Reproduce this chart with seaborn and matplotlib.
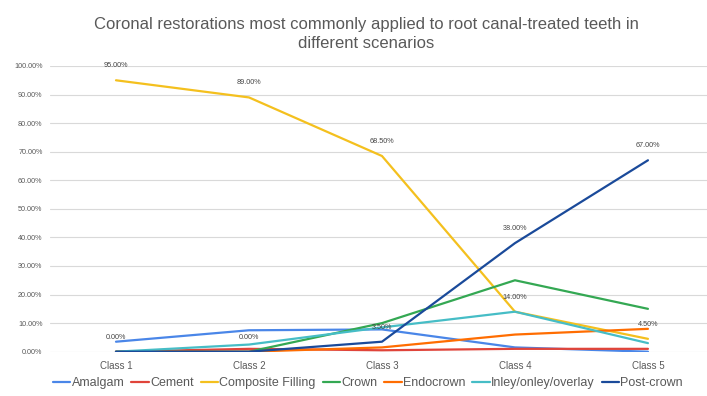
import matplotlib
matplotlib.use("Agg")
import matplotlib.pyplot as plt
from matplotlib import font_manager
import seaborn as sns
import pandas as pd

# Share of each restoration type per class (percent)
classes = ["Class 1", "Class 2", "Class 3", "Class 4", "Class 5"]
amalgam = [3.5, 7.5, 7.8, 1.5, 0.0]
cement = [0.0, 1.0, 0.5, 1.0, 1.0]
composite_filling = [95.0, 89.0, 68.5, 14.0, 4.5]
crown = [0.0, 0.0, 10.0, 25.0, 15.0]
endocrown = [0.0, 0.0, 1.5, 6.0, 8.0]
inlay_onlay_overlay = [0.0, 2.5, 8.5, 14.0, 3.0]
post_crown = [0.0, 0.0, 3.5, 38.0, 67.0]

series_names = ["Amalgam", "Cement", "Composite Filling", "Crown",
                "Endocrown", "Inley/onley/overlay", "Post-crown"]
series_values = [amalgam, cement, composite_filling, crown,
                 endocrown, inlay_onlay_overlay, post_crown]
colors = ["#4a86e8", "#e0443a", "#f4c01e", "#34a853",
          "#ff6d01", "#46bdc6", "#1a4a9a"]

# Series that carry value labels
label_values = {"Composite Filling": composite_filling, "Post-crown": post_crown}

rows = []
for name, vals in zip(series_names, series_values):
    for i, v in enumerate(vals):
        rows.append({"idx": i, "value": v, "series": name})
df = pd.DataFrame(rows)

sns.set_theme(style="white")
available = {f.name for f in font_manager.fontManager.ttflist}
base_font = "Liberation Sans" if "Liberation Sans" in available else "DejaVu Sans"
plt.rcParams["font.family"] = [base_font, "DejaVu Sans"]

fig = plt.figure(figsize=(7.07, 3.96), dpi=100)
ax = fig.add_axes([49.5 / 707, 1 - 351.7 / 396, 1 - 49.5 / 707, (351.7 - 66) / 396])

sns.lineplot(data=df, x="idx", y="value", hue="series", hue_order=series_names,
             palette=colors, linewidth=1.6, ax=ax, legend=True, sort=False)

text_col = "#595959"
ax.set_xlim(-0.5, 4.444)
ax.set_ylim(0, 100)
ax.set_yticks(range(0, 101, 10))
ax.set_yticklabels([f"{t:.2f}%" for t in range(0, 101, 10)])
ax.set_xticks(range(len(classes)))
ax.set_xticklabels(classes)
ax.tick_params(axis="y", labelsize=5.2, colors=text_col, length=0, pad=5)
ax.tick_params(axis="x", labelsize=7, colors=text_col, length=0, pad=7)
ax.set_xlabel("")
ax.set_ylabel("")
ax.grid(axis="y", color="#d9d9d9", linewidth=0.8)
ax.grid(axis="x", visible=False)
for s in ax.spines.values():
    s.set_visible(False)

for name, vals in label_values.items():
    for i, v in enumerate(vals):
        ax.annotate(f"{v:.2f}%", (i, v), xytext=(0, 8), textcoords="offset points",
                    ha="center", va="bottom", fontsize=5.2, color="#444444",
                    annotation_clip=False)

handles, labels = ax.get_legend_handles_labels()
ax.legend_.remove()
fig.legend(handles, labels, loc="center", bbox_to_anchor=(368 / 707, 1 - 383 / 396),
           ncol=7, frameon=False, fontsize=9, handlelength=1.4, handletextpad=0.1,
           columnspacing=0.55, labelcolor=text_col)

fig.text(366 / 707, 1 - 34 / 396,
         "Coronal restorations most commonly applied to root canal-treated teeth in\ndifferent scenarios",
         ha="center", va="center", fontsize=12, color=text_col, linespacing=1.3)

fig.savefig("out.png", dpi=100, facecolor="white")
